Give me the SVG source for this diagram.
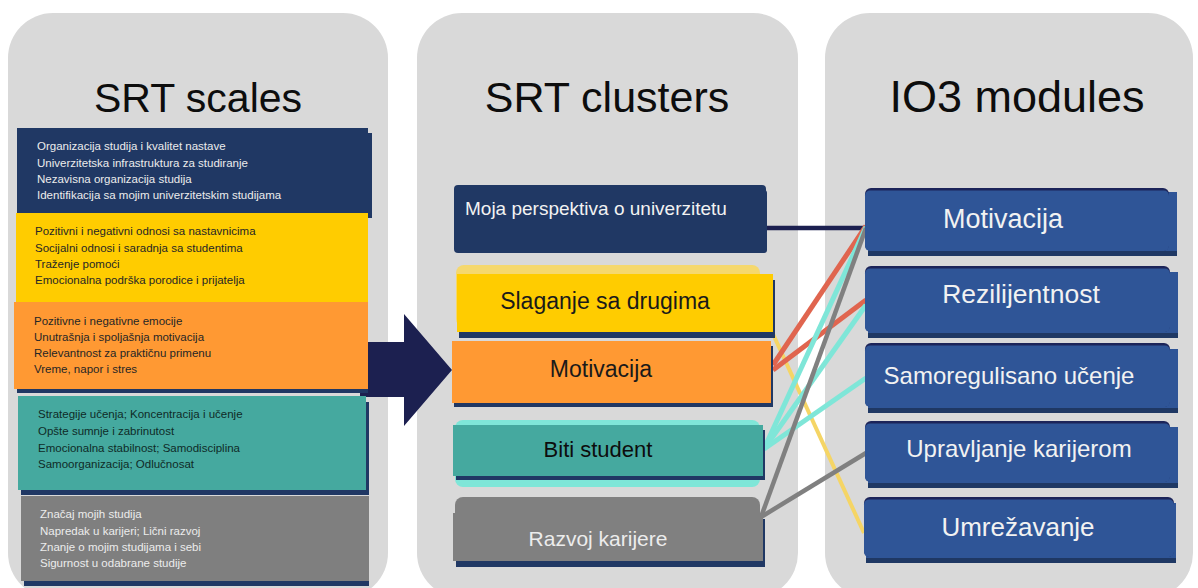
<svg xmlns="http://www.w3.org/2000/svg" width="1198" height="588" viewBox="0 0 1198 588">
<style>
text{font-family:"Liberation Sans",Arial,sans-serif}
.panel{fill:#d9d9d9}
.title{font-size:42px;fill:#0d0d0d;text-anchor:middle}
.navy{fill:#203864}
.sm{font-size:11.5px}
.lt{fill:#ececec}
.dk{fill:#262626}
.mid{font-size:22px;text-anchor:middle}
.mod{font-size:25px;fill:#f2f2f2;text-anchor:middle}
.mtop{fill:#1c2459}
.mblue{fill:#2f5597}
.mshadow{fill:#1f3864}
.ln{fill:none;stroke-linecap:butt}
</style>
<rect width="1198" height="588" fill="#ffffff"/>
<g id="panels">
<rect class="panel" x="8" y="13" width="380" height="585" rx="45"/>
<rect class="panel" x="417" y="13" width="381" height="585" rx="45"/>
<rect class="panel" x="825" y="13" width="368" height="585" rx="45"/>
<text class="title" x="198" y="112" style="font-size:41px">SRT scales</text>
<text class="title" x="607" y="112" style="font-size:43px">SRT clusters</text>
<text class="title" x="1017" y="112" style="font-size:45px">IO3 modules</text>
</g>
<g id="arrow">
<polygon points="360,342 404,342 404,314 452,370 404,426 404,397 360,397" fill="#1c2050"/>
</g>
<g id="scale-1">
<rect class="navy" x="20" y="133" width="352" height="85"/>
<rect class="navy" x="17" y="128" width="351" height="85"/>
<text class="sm lt"><tspan x="37" y="150">Organizacija studija i kvalitet nastave</tspan><tspan x="37" y="166.5">Univerzitetska infrastruktura za studiranje</tspan><tspan x="37" y="182.7">Nezavisna organizacija studija</tspan><tspan x="37" y="198.5">Identifikacija sa mojim univerzitetskim studijama</tspan></text>
</g>
<g id="scale-2">
<rect x="16" y="213" width="352" height="89" fill="#ffcc00"/>
<text class="sm dk"><tspan x="35" y="235">Pozitivni i negativni odnosi sa nastavnicima</tspan><tspan x="35" y="251.5">Socijalni odnosi i saradnja sa studentima</tspan><tspan x="35" y="268">Traženje pomoći</tspan><tspan x="35" y="284.3">Emocionalna podrška porodice i prijatelja</tspan></text>
</g>
<g id="scale-3">
<rect class="navy" x="17" y="306" width="351" height="87"/>
<rect x="14" y="302" width="354" height="87" fill="#ff9933"/>
<text class="sm dk"><tspan x="34" y="325">Pozitivne i negativne emocije</tspan><tspan x="34" y="341">Unutrašnja i spoljašnja motivacija</tspan><tspan x="34" y="357">Relevantnost za praktičnu primenu</tspan><tspan x="34" y="373.3">Vreme, napor i stres</tspan></text>
</g>
<g id="scale-4">
<rect class="navy" x="21" y="402" width="348" height="93"/>
<rect x="18" y="396" width="348" height="94" fill="#45a99f"/>
<text class="sm" fill="#0f2b27"><tspan x="38" y="418.3">Strategije učenja; Koncentracija i učenje</tspan><tspan x="38" y="435">Opšte sumnje i zabrinutost</tspan><tspan x="38" y="451.7">Emocionalna stabilnost; Samodisciplina</tspan><tspan x="38" y="467.7">Samoorganizacija; Odlučnosat</tspan></text>
</g>
<g id="scale-5">
<rect class="navy" x="24" y="501" width="345" height="85"/>
<rect x="21" y="496" width="348" height="85" fill="#7f7f7f"/>
<text class="sm lt"><tspan x="40" y="518.3">Značaj mojih studija</tspan><tspan x="40" y="535">Napredak u karijeri; Lični razvoj</tspan><tspan x="40" y="551">Znanje o mojim studijama i sebi</tspan><tspan x="40" y="566.7">Sigurnost u odabrane studije</tspan></text>
</g>
<g id="connectors">
<line class="ln" x1="766" y1="228" x2="866" y2="228" stroke="#1c2050" stroke-width="4.5"/>
<line class="ln" x1="773" y1="334" x2="864" y2="533" stroke="#f5d565" stroke-width="4"/>
<line class="ln" x1="773" y1="365" x2="866" y2="226" stroke="#e0654f" stroke-width="5"/>
<line class="ln" x1="773" y1="370" x2="866" y2="300" stroke="#e0654f" stroke-width="5"/>
<line class="ln" x1="764" y1="449" x2="866" y2="227" stroke="#7fe6d8" stroke-width="5"/>
<line class="ln" x1="764" y1="449" x2="866" y2="305" stroke="#7fe6d8" stroke-width="5"/>
<line class="ln" x1="764" y1="449" x2="866" y2="378" stroke="#7fe6d8" stroke-width="5"/>
<line class="ln" x1="761" y1="517" x2="866" y2="228" stroke="#808080" stroke-width="4.5"/>
<line class="ln" x1="761" y1="517" x2="866" y2="453" stroke="#808080" stroke-width="4.5"/>
</g>
<g id="cluster-perspektiva">
<rect class="navy" x="458" y="190" width="309" height="63" rx="3"/>
<rect class="navy" x="454" y="185" width="312" height="68" rx="4"/>
<text x="465" y="215" style="font-size:19px" fill="#f2f2f2">Moja perspektiva o univerzitetu</text>
</g>
<g id="cluster-slaganje">
<rect x="456" y="265" width="304" height="62" rx="8" fill="#f5d86e"/>
<rect class="navy" x="459" y="280" width="316" height="58"/>
<rect x="457" y="274" width="316" height="58" fill="#ffcc00"/>
<text class="mid" x="605" y="309" fill="#1a1a1a" style="font-size:23px">Slaganje sa drugima</text>
</g>
<g id="cluster-motivacija">
<rect class="navy" x="454" y="346" width="319" height="61"/>
<rect x="452" y="341" width="319" height="62" fill="#ff9933"/>
<text class="mid" x="601" y="377" fill="#1a1a1a" style="font-size:23px">Motivacija</text>
</g>
<g id="cluster-student">
<rect x="455" y="420" width="305" height="67" rx="8" fill="#7fe6d8"/>
<rect class="navy" x="456" y="430" width="309" height="50"/>
<rect x="453" y="425" width="310" height="51" fill="#45a99f"/>
<text class="mid" x="598" y="457" fill="#0d0d0d">Biti student</text>
</g>
<g id="cluster-karijera">
<rect x="455" y="497" width="305" height="50" rx="8" fill="#808080"/>
<rect class="navy" x="456" y="519" width="309" height="48"/>
<rect x="453" y="513" width="310" height="48" fill="#808080"/>
<text class="mid" x="598" y="546" fill="#ececec" style="font-size:21px">Razvoj karijere</text>
</g>
<g id="module-motivacija">
<rect class="mshadow" x="868" y="192" width="309" height="64"/>
<rect class="mblue" x="868" y="192" width="309" height="59"/>
<rect class="mtop" x="865" y="188" width="304" height="63" rx="6"/>
<rect class="mblue" x="865" y="190.5" width="304" height="60.5" rx="5"/>
<text class="mod" x="1003" y="228" style="font-size:27px">Motivacija</text>
</g>
<g id="module-rezilijentnost">
<rect class="mshadow" x="868" y="272" width="310" height="66"/>
<rect class="mblue" x="868" y="272" width="310" height="61"/>
<rect class="mtop" x="865" y="266" width="305" height="66" rx="6"/>
<rect class="mblue" x="865" y="268.5" width="305" height="63.5" rx="5"/>
<text class="mod" x="1021" y="303" style="font-size:26.5px">Rezilijentnost</text>
</g>
<g id="module-samoregulisano">
<rect class="mshadow" x="868" y="349" width="310" height="64"/>
<rect class="mblue" x="868" y="349" width="310" height="59"/>
<rect class="mtop" x="865" y="343" width="305" height="64" rx="6"/>
<rect class="mblue" x="865" y="345.5" width="305" height="61.5" rx="5"/>
<text class="mod" x="1009" y="384" style="font-size:24px">Samoregulisano učenje</text>
</g>
<g id="module-karijera">
<rect class="mshadow" x="868" y="427" width="310" height="61"/>
<rect class="mblue" x="868" y="427" width="310" height="56"/>
<rect class="mtop" x="865" y="421" width="305" height="61" rx="6"/>
<rect class="mblue" x="865" y="423.5" width="305" height="58.5" rx="5"/>
<text class="mod" x="1019" y="457" style="font-size:24px">Upravljanje karijerom</text>
</g>
<g id="module-umrezavanje">
<rect class="mshadow" x="866" y="503" width="310" height="60"/>
<rect class="mblue" x="866" y="503" width="310" height="55"/>
<rect class="mtop" x="864" y="497" width="310" height="60" rx="6"/>
<rect class="mblue" x="864" y="499.5" width="310" height="57.5" rx="5"/>
<text class="mod" x="1018" y="536" style="font-size:26px">Umrežavanje</text>
</g>
</svg>
